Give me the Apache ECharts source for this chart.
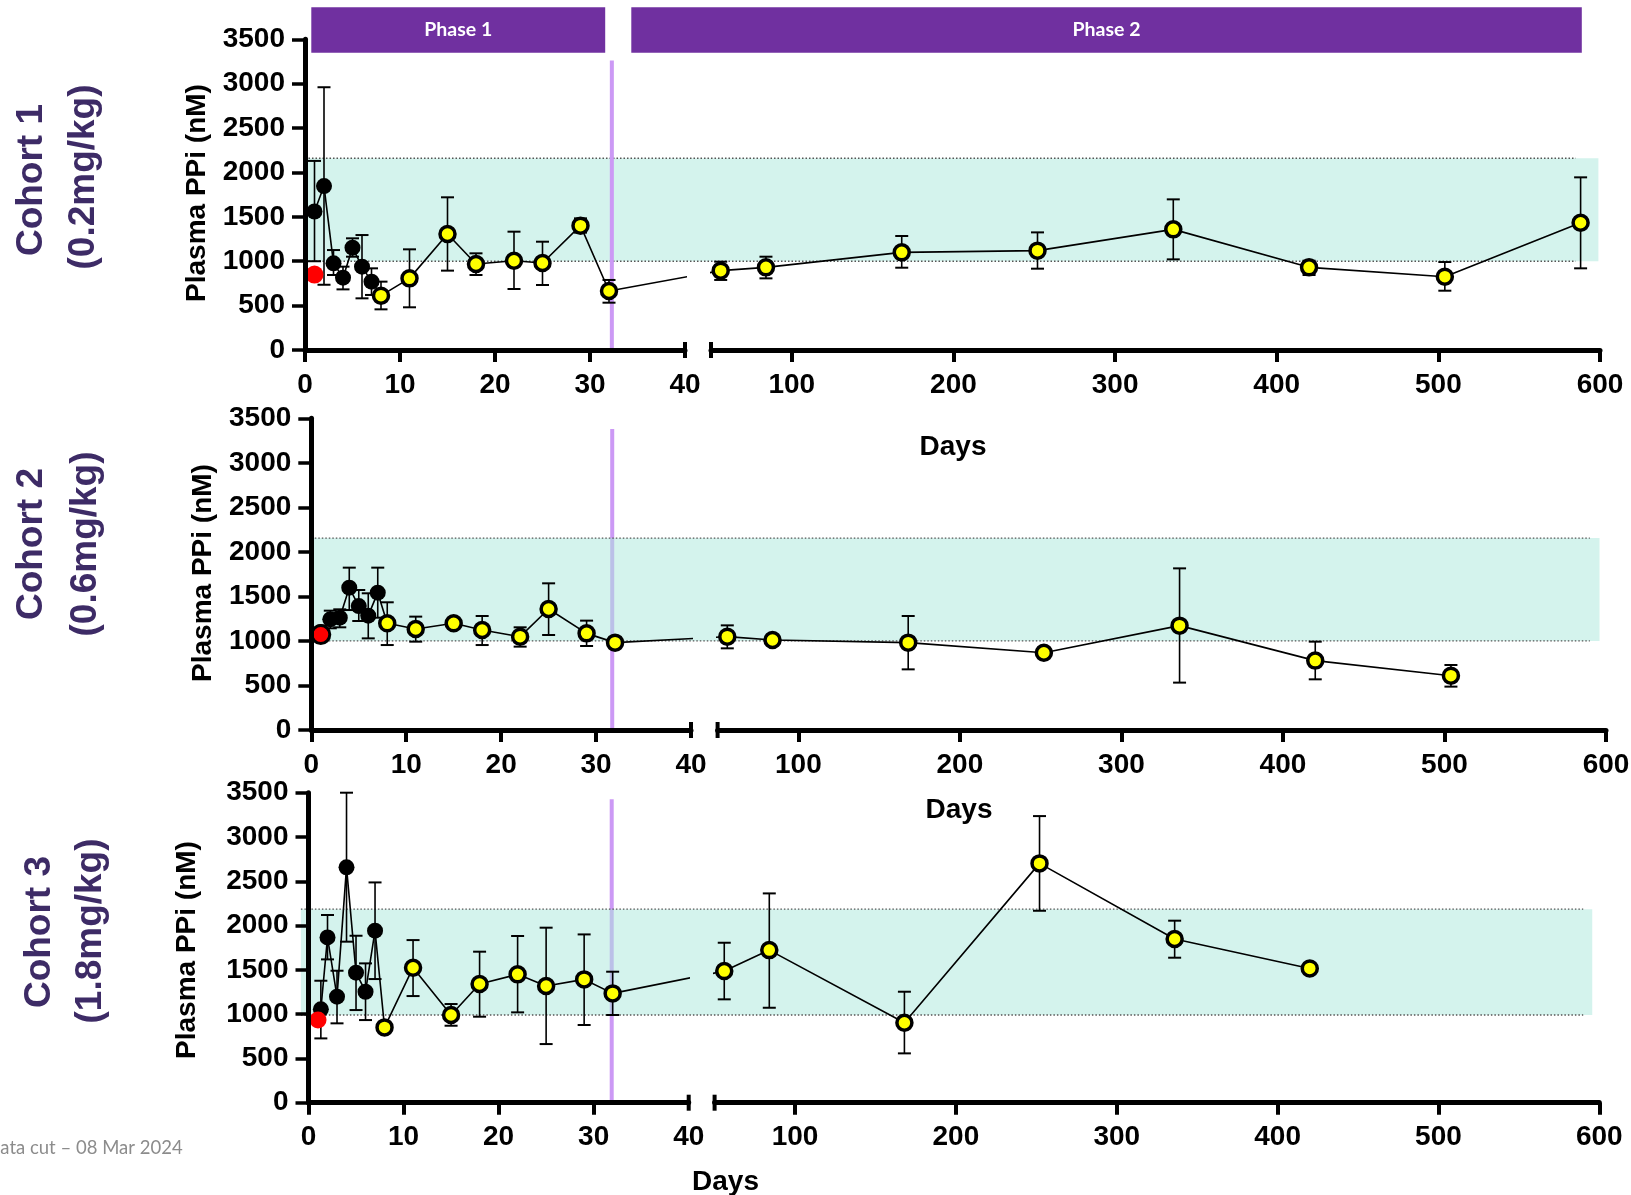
<!DOCTYPE html>
<html>
<head>
<meta charset="utf-8">
<script src="https://cdn.jsdelivr.net/npm/echarts@6/dist/echarts.min.js"></script>
<style>html,body{margin:0;padding:0;background:#fff;overflow:hidden}#chart{width:1631px;height:1195px}</style>
</head>
<body>
<div id="chart"></div>
<script>
// ---------------- DATA ----------------
// Cohort 1 (0.2 mg/kg)
const c1Days = [1, 2, 3, 4, 5, 6, 7, 8, 11, 15, 18, 22, 25, 29, 32, 56, 84, 168, 252, 336, 420, 504, 588];
const c1Mean = [1560, 1847, 976, 815, 1153, 939, 770, 612, 807, 1307, 969, 1006, 980, 1401, 665, 894, 931, 1100, 1119, 1359, 931, 826, 1434];
const c1Low  = [1000, 735, 845, 683, 1051, 582, 620, 458, 481, 894, 845, 687, 732, 1322, 533, 789, 807, 927, 916, 1021, 845, 668, 920];
const c1High = [2130, 2960, 1126, 939, 1258, 1295, 920, 770, 1134, 1720, 1089, 1333, 1220, 1483, 789, 995, 1051, 1284, 1325, 1697, 1006, 991, 1945];
const c1Baseline = [[1, 850]];

// Cohort 2 (0.6 mg/kg)
const c2Days = [1, 2, 3, 4, 5, 6, 7, 8, 11, 15, 18, 22, 25, 29, 32, 56, 84, 168, 252, 336, 420, 504];
const c2Mean = [1100, 1243, 1261, 1598, 1392, 1284, 1542, 1198, 1134, 1198, 1123, 1048, 1359, 1085, 981, 1048, 1011, 981, 868, 1172, 779, 610];
const c2Low  = [null, 1142, 1153, 1347, 1224, 1029, 1261, 954, 992, null, 954, 936, 1067, 943, null, 917, null, 681, null, 532, 569, 487];
const c2High = [null, 1340, 1355, 1823, 1572, 1535, 1823, 1434, 1273, null, 1280, 1153, 1647, 1228, null, 1175, null, 1280, null, 1815, 992, 730];
const c2Baseline = [[1, 1072]];

// Cohort 3 (1.8 mg/kg)
const c3Days = [1.3, 2, 3, 4, 5, 6, 7, 8, 11, 15, 18, 22, 25, 29, 32, 56, 84, 168, 252, 336, 420];
const c3Mean = [1054, 1866, 1197, 2657, 1468, 1253, 1942, 850, 1524, 990, 1340, 1449, 1317, 1392, 1234, 1486, 1723, 903, 2702, 1848, 1516];
const c3Low  = [726, 1618, 896, 1818, 1046, 933, 1396, null, 1204, 869, 971, 1020, 662, 877, 990, 1167, 1072, 557, 2167, 1637, null];
const c3High = [1377, 2119, 1490, 3500, 1885, 1573, 2487, null, 1836, 1114, 1705, 1882, 1976, 1900, 1479, 1806, 2363, 1253, 3236, 2055, null];
const c3Baseline = [[1, 933]];

// Normal PPi reference range per cohort panel [low, high]
const refRange = [[1000, 2160], [1000, 2155], [990, 2185]];
// Day of phase 1 -> phase 2 transition marker per panel
const transitionDay = [32.3, 31.7, 31.9];
const lastLoadingDay = 7;          // black markers up to this day, yellow after

const cohortNames = ['Cohort 1', 'Cohort 2', 'Cohort 3'];
const cohortDoses = ['(0.2mg/kg)', '(0.6mg/kg)', '(1.8mg/kg)'];

const leftTicks = [0, 10, 20, 30, 40];
const rightTicks = [100, 200, 300, 400, 500, 600];
const yTicks = [0, 500, 1000, 1500, 2000, 2500, 3000, 3500];

// ---------------- LAYOUT ----------------
const L = [
  {yx: 305, top: 39.3, bottom: 350, leftEnd: 685, rightStart: 711, rightEnd: 1600,
   purpleTop: 3260, purpleOver: true, bandX0: 0, bandX1: 599, dotX1: 585,
   yTitle: [197, 193], cohort: [31.5, 180], dose: [83.5, 177], days: [953, 447]},
  {yx: 311.3, top: 418.3, bottom: 730, leftEnd: 691, rightStart: 717.6, rightEnd: 1606,
   purpleTop: 3380, purpleOver: false, bandX0: 0, bandX1: 596, dotX1: 590,
   yTitle: [203, 573], cohort: [31.5, 544], dose: [85.5, 544], days: [959, 810]},
  {yx: 308.5, top: 792.7, bottom: 1102.7, leftEnd: 688.7, rightStart: 714.6, rightEnd: 1599.3,
   purpleTop: 3425, purpleOver: false, bandX0: -0.8, bandX1: 595.6, dotX1: 590,
   yTitle: [187, 950], cohort: [39.5, 932], dose: [90.5, 931], days: [725.5, 1182]}
];
const cohorts = [
  {days: c1Days, mean: c1Mean, low: c1Low, high: c1High, base: c1Baseline, redSize: 18, redBorder: 0},
  {days: c2Days, mean: c2Mean, low: c2Low, high: c2High, base: c2Baseline, redSize: 18, redBorder: 3},
  {days: c3Days, mean: c3Mean, low: c3Low, high: c3High, base: c3Baseline, redSize: 17, redBorder: 0}
];

const FONT = "'Liberation Sans', Arial, sans-serif";
const chart = echarts.init(document.getElementById('chart'), null, {renderer: 'canvas'});

const grids = [], xAxes = [], yAxes = [], series = [];

function errSeries(idx, pts) {
  return {
    type: 'custom', xAxisIndex: idx, yAxisIndex: idx, z: 3, silent: true,
    data: pts,
    renderItem: function (params, api) {
      const x = api.value(0), lo = api.value(1), hi = api.value(2);
      const a = api.coord([x, lo]), b = api.coord([x, hi]);
      const w = 6.5;
      const st = {stroke: '#000', lineWidth: 1.6};
      return {type: 'group', children: [
        {type: 'line', shape: {x1: a[0], y1: a[1], x2: b[0], y2: b[1]}, style: st},
        {type: 'line', shape: {x1: a[0] - w, y1: a[1], x2: a[0] + w, y2: a[1]}, style: {stroke: '#000', lineWidth: 2}},
        {type: 'line', shape: {x1: b[0] - w, y1: b[1], x2: b[0] + w, y2: b[1]}, style: {stroke: '#000', lineWidth: 2}}
      ]};
    }
  };
}

function pointItem(d, v) {
  const black = d <= lastLoadingDay;
  return {
    value: [d, v],
    symbolSize: black ? 16 : 15,
    itemStyle: black ? {color: '#000', borderColor: '#000', borderWidth: 0}
                     : {color: '#ffff00', borderColor: '#000', borderWidth: 3.5}
  };
}

const plain = function (v) { return String(v); };
const axisLabelStyle = {fontSize: 28, fontWeight: 'bold', color: '#000', fontFamily: FONT, formatter: plain};

L.forEach(function (p, i) {
  const gl = i * 2, gr = i * 2 + 1;
  grids.push({left: p.yx, top: p.top, width: p.leftEnd - p.yx, height: p.bottom - p.top, containLabel: false, outerBoundsMode: 'none'});
  grids.push({left: p.rightStart, top: p.top, width: p.rightEnd - p.rightStart, height: p.bottom - p.top, containLabel: false, outerBoundsMode: 'none'});

  xAxes.push({gridIndex: gl, type: 'value', min: 0, max: 40, interval: 10, z: 10,
    axisLine: {onZero: false, lineStyle: {color: '#000', width: 5}},
    axisTick: {length: 12, lineStyle: {color: '#000', width: 4}, customValues: leftTicks.slice(0, 4)},
    axisLabel: Object.assign({margin: 21, customValues: leftTicks}, axisLabelStyle),
    splitLine: {show: false}});
  xAxes.push({gridIndex: gr, type: 'value', min: 50, max: 600, z: 10,
    axisLine: {onZero: false, lineStyle: {color: '#000', width: 5}},
    axisTick: {length: 12, lineStyle: {color: '#000', width: 4}, customValues: rightTicks},
    axisLabel: Object.assign({margin: 21, customValues: rightTicks}, axisLabelStyle),
    splitLine: {show: false}});
  yAxes.push({gridIndex: gl, type: 'value', min: 0, max: 3500, interval: 500, z: 10,
    axisLine: {show: true, onZero: false, lineStyle: {color: '#000', width: 5}},
    axisTick: {show: true, length: 13, lineStyle: {color: '#000', width: 3.5}},
    axisLabel: Object.assign({margin: 20}, axisLabelStyle),
    splitLine: {show: false}});
  yAxes.push({gridIndex: gr, type: 'value', min: 0, max: 3500, interval: 500, show: false, splitLine: {show: false}});

  const c = cohorts[i];
  const leftPts = [], rightPts = [], leftErr = [], rightErr = [];
  c.days.forEach(function (d, k) {
    const item = pointItem(d, c.mean[k]);
    const e = (c.low[k] != null) ? [d, c.low[k], c.high[k]] : null;
    if (d <= 40) { leftPts.push(item); if (e) leftErr.push(e); }
    else { rightPts.push(item); if (e) rightErr.push(e); }
  });

  // transition line
  series.push({type: 'line', xAxisIndex: gl, yAxisIndex: gl, z: p.purpleOver ? 1.5 : 0.5, silent: true,
    symbol: 'none', data: [[transitionDay[i], 0], [transitionDay[i], p.purpleTop]],
    lineStyle: {color: '#cc99f5', width: 4}});

  series.push(errSeries(gl, leftErr));
  series.push(errSeries(gr, rightErr));

  series.push({type: 'line', xAxisIndex: gl, yAxisIndex: gl, z: 4, symbol: 'circle', data: leftPts,
    lineStyle: {color: '#000', width: 1.6}, silent: true});
  series.push({type: 'line', xAxisIndex: gr, yAxisIndex: gr, z: 4, symbol: 'circle', data: rightPts,
    lineStyle: {color: '#000', width: 1.6}, silent: true});

  series.push({type: 'scatter', xAxisIndex: gl, yAxisIndex: gl, z: 6, symbol: 'circle', symbolSize: c.redSize,
    data: c.base, itemStyle: {color: '#ff0000', borderColor: '#000', borderWidth: c.redBorder, opacity: 1}, silent: true});
});

chart.setOption({
  animation: false,
  backgroundColor: '#ffffff',
  grid: grids, xAxis: xAxes, yAxis: yAxes, series: series
});

// ---------- second pass: elements that depend on the axes' pixel scales ----------
const graphics = [];
const extraSeries = [];

function px(gi, v) { return chart.convertToPixel({gridIndex: gi}, v); }
function dt(gi, pix) { return chart.convertFromPixel({gridIndex: gi}, pix); }

L.forEach(function (p, i) {
  const gl = i * 2, gr = i * 2 + 1;
  const c = cohorts[i];
  const rr = refRange[i];

  // reference band across both segments
  const a = px(gl, [p.bandX0, rr[1]]);
  const b = px(gr, [p.bandX1, rr[0]]);
  graphics.push({type: 'rect', z: 1, silent: true,
    shape: {x: a[0], y: a[1], width: b[0] - a[0], height: b[1] - a[1]},
    style: {fill: 'rgba(170,232,220,0.5)'}});
  const dEnd = px(gr, [p.dotX1, rr[0]])[0];
  [rr[0], rr[1]].forEach(function (v) {
    const yy = px(gl, [0, v])[1];
    graphics.push({type: 'line', z: 1.2, silent: true,
      shape: {x1: a[0], y1: yy, x2: dEnd, y2: yy},
      style: {stroke: '#555', lineWidth: 1.3, lineDash: [1.5, 2]}});
  });

  // connector across the axis break
  const nL = c.days.filter(function (d) { return d <= 40; }).length;
  const lastL = [c.days[nL - 1], c.mean[nL - 1]];
  if (nL < c.days.length) {
    const firstR = [c.days[nL], c.mean[nL]];
    const pL = px(gl, lastL), pR = px(gr, firstR);
    const rInL = dt(gl, pR), lInR = dt(gr, pL);
    extraSeries.push({type: 'line', xAxisIndex: gl, yAxisIndex: gl, z: 3.5, symbol: 'none', clip: true, silent: true,
      data: [lastL, rInL], lineStyle: {color: '#000', width: 1.6}});
    extraSeries.push({type: 'line', xAxisIndex: gr, yAxisIndex: gr, z: 3.5, symbol: 'none', clip: true, silent: true,
      data: [lInR, firstR], lineStyle: {color: '#000', width: 1.6}});
  }

  // break caps
  const e1 = px(gl, [40, 0]), e2 = px(gr, [50, 0]);
  [e1, e2].forEach(function (e) {
    graphics.push({type: 'line', z: 11, silent: true,
      shape: {x1: e[0], y1: e[1] - 8, x2: e[0], y2: e[1] + 8},
      style: {stroke: '#000', lineWidth: 4}});
  });

  // texts
  graphics.push({type: 'text', x: p.yTitle[0], y: p.yTitle[1], rotation: Math.PI / 2, z: 12, silent: true,
    style: {text: 'Plasma PPi (nM)', fill: '#000', font: 'bold 28px ' + FONT, align: 'center', verticalAlign: 'middle'}});
  graphics.push({type: 'text', x: p.cohort[0], y: p.cohort[1], rotation: Math.PI / 2, z: 12, silent: true,
    style: {text: cohortNames[i], fill: '#3d2b66', font: 'bold 37px ' + FONT, align: 'center', verticalAlign: 'middle'}});
  graphics.push({type: 'text', x: p.dose[0], y: p.dose[1], rotation: Math.PI / 2, z: 12, silent: true,
    style: {text: cohortDoses[i], fill: '#3d2b66', font: 'bold 37px ' + FONT, align: 'center', verticalAlign: 'middle'}});
  graphics.push({type: 'text', x: p.days[0], y: p.days[1], z: 12, silent: true,
    style: {text: 'Days', fill: '#000', font: 'bold 28px ' + FONT, align: 'center', verticalAlign: 'middle'}});
});

// Phase banners
[['Phase 1', 311.3, 605.2], ['Phase 2', 631.3, 1581.8]].forEach(function (ph) {
  graphics.push({type: 'rect', z: 12, silent: true,
    shape: {x: ph[1], y: 7.3, width: ph[2] - ph[1], height: 45.4}, style: {fill: '#7030a0'}});
  graphics.push({type: 'text', z: 13, silent: true, x: (ph[1] + ph[2]) / 2, y: 30,
    style: {text: ph[0], fill: '#fff', font: 'bold 19.5px Lato, ' + FONT, align: 'center', verticalAlign: 'middle'}});
});

// footnote
graphics.push({type: 'text', z: 12, silent: true, x: -13.5, y: 1148,
  style: {text: 'Data cut \u2013 08 Mar 2024', fill: '#8c8c8c', font: '18.5px Lato, ' + FONT, align: 'left', verticalAlign: 'middle'}});

chart.setOption({series: series.concat(extraSeries), graphic: graphics});
</script>
</body>
</html>
